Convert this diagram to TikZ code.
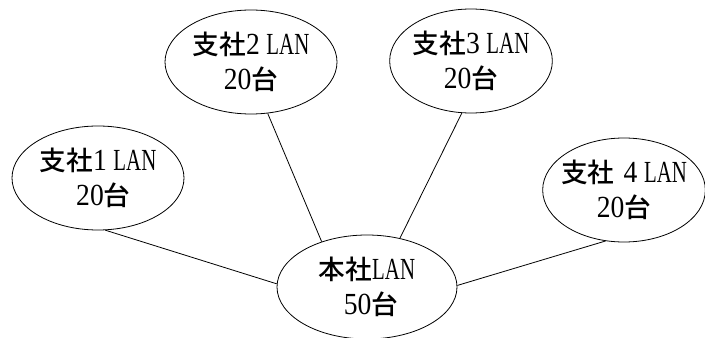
\documentclass[tikz,border=0pt]{standalone}
\usepackage{fontspec}
\usetikzlibrary{shapes.geometric}
\newfontfamily\cjkf{Noto Sans CJK JP Medium}
\newfontfamily\digf{Liberation Serif}[FakeStretch=0.9]
\newfontfamily\latf{Liberation Serif}[FakeStretch=0.68]
\newcommand\Cj[1]{{\cjkf\fontsize{20}{26}\selectfont #1}}
\newcommand\Dg[1]{{\digf #1}}
\newcommand\Ln{{\latf LAN}}
\tikzset{
  lan/.style={ellipse, draw, line width=0.6pt, inner xsep=-30pt, inner ysep=0pt,
    align=center, font=\fontsize{23}{26}\selectfont},
  link/.style={line width=0.6pt}
}
\begin{document}
\begin{tikzpicture}[x=0.75pt,y=-0.75pt]
\useasboundingbox (0,0) rectangle (705,338);
\node[lan, minimum width=129pt, minimum height=78pt] (b1) at (98,178)
  {\Cj{支社}\Dg{1}\hspace{5pt}\Ln\\\hspace{8pt}\Dg{20}\Cj{台}};
\node[lan, minimum width=129pt, minimum height=78pt] (b2) at (251,62)
  {\Cj{支社}\Dg{2}\hspace{5pt}\Ln\\\Dg{20}\Cj{台}};
\node[lan, minimum width=122pt, minimum height=78pt] (b3) at (471,61)
  {\Cj{支社}\Dg{3}\hspace{5pt}\Ln\\\Dg{20}\Cj{台}};
\node[lan, minimum width=122pt, minimum height=78pt] (b4) at (624,190)
  {\Cj{支社}\hspace{7pt}\Dg{4}\hspace{5pt}\Ln\\\Dg{20}\Cj{台}};
\node[lan, minimum width=135pt, minimum height=78pt] (hq) at (367,287)
  {\Cj{本社}\Ln\\\hspace{6pt}\Dg{50}\Cj{台}};
\draw[link] (b1.-82) -- (hq.178);
\draw[link] (b2.-72) -- (hq.135);
\draw[link] (b3.-100) -- (hq.56);
\draw[link] (b4.-110) -- (hq.1);
\end{tikzpicture}
\end{document}
